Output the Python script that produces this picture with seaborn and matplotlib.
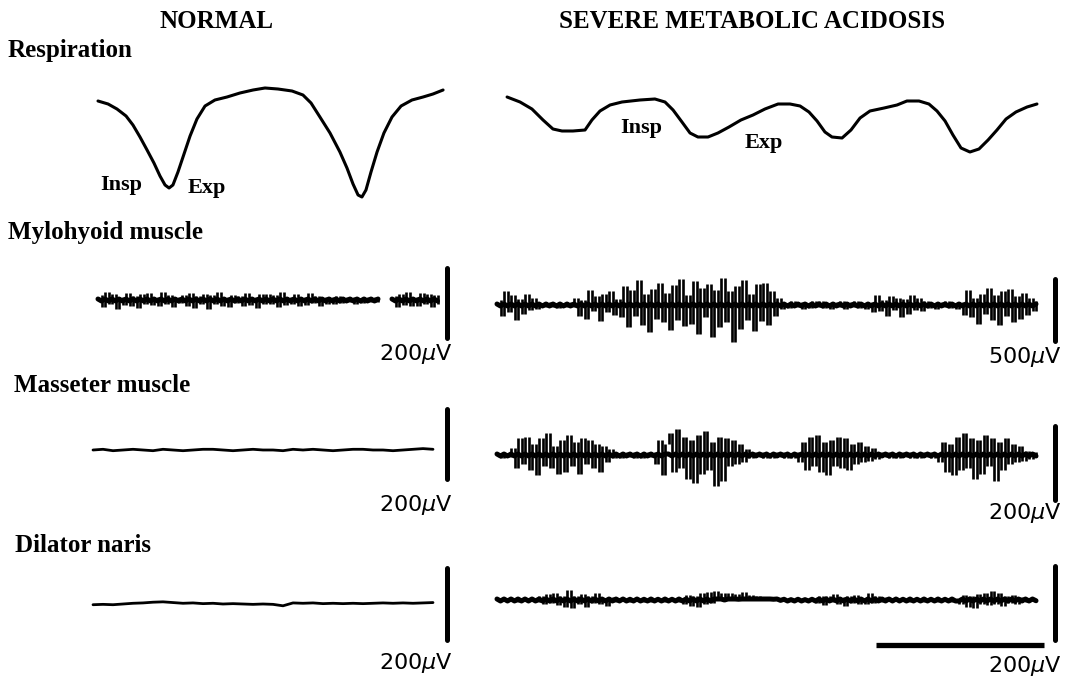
import numpy as np
import pandas as pd
import matplotlib
matplotlib.use("Agg")
import matplotlib.pyplot as plt
import seaborn as sns

sns.set_theme(style="white")
plt.rcParams["font.family"] = ["Liberation Serif", "DejaVu Serif"]
plt.rcParams["text.color"] = "black"

# ---- data (time in s, EMG in microvolts) ----
px_per_s = 168.0            # both panels share the time scale; 1 s bar
dt_emg = 3.5 / px_per_s     # sampling of the hand-read EMG traces
dt_flat = 10.0 / px_per_s

# respiration, arbitrary units (up = expiration)
resp_norm_t = [0.000, 0.060, 0.113, 0.167, 0.208, 0.250, 0.292, 0.333, 0.369, 0.399,
               0.423, 0.446, 0.476, 0.512, 0.548, 0.589, 0.637, 0.696, 0.768, 0.845,
               0.923, 0.994, 1.071, 1.155, 1.220, 1.268, 1.321, 1.381, 1.440, 1.482,
               1.518, 1.548, 1.571, 1.595, 1.625, 1.661, 1.702, 1.750, 1.804, 1.869,
               1.935, 1.994, 2.054]
resp_norm_v = [49, 46, 41, 34, 25, 13, 0, -13, -26, -35,
               -38, -35, -22, -4, 14, 31, 44, 50, 53, 57,
               60, 62, 61, 59, 55, 47, 33, 17, -2, -18,
               -34, -45, -47, -40, -22, -2, 17, 33, 44, 50,
               53, 56, 60]

resp_acid_t = [0.060, 0.137, 0.208, 0.274, 0.333, 0.387, 0.452, 0.524, 0.565, 0.613,
               0.673, 0.744, 0.851, 0.940, 1.000, 1.048, 1.101, 1.149, 1.196, 1.256,
               1.315, 1.381, 1.452, 1.524, 1.595, 1.673, 1.744, 1.804, 1.857, 1.905,
               1.952, 1.994, 2.054, 2.107, 2.161, 2.220, 2.304, 2.381, 2.440, 2.512,
               2.571, 2.619, 2.667, 2.714, 2.762, 2.815, 2.869, 2.923, 2.976, 3.030,
               3.089, 3.155, 3.214]
resp_acid_v = [53, 48, 41, 30, 21, 19, 19, 20, 30, 39,
               45, 48, 50, 51, 48, 40, 28, 17, 13, 13,
               17, 23, 30, 35, 41, 46, 46, 44, 38, 29,
               18, 13, 12, 20, 32, 39, 42, 45, 49, 49,
               46, 39, 29, 15, 2, -2, 1, 10, 20, 31,
               38, 43, 46]

# mylohyoid, normal (two pieces, gap before the last burst)
myl_norm_a = [15, -20, 22, -12, 18, -25, 10, -15, 20, -18,
              12, -22, 16, -10, 20, -14, 8, -18, 22, -12,
              15, -20, 10, -8, 14, -16, 20, -22, 12, -10,
              18, -25, 14, -12, 22, -16, 10, -20, 15, -8,
              12, -18, 20, -14, 10, -22, 16, -12, 18, -10,
              14, -20, 22, -15, 8, -12, 16, -18, 10, -14,
              20, -8, 12, -16, 10, -12, 8, -10, 12, -8,
              10, -6, 8, -10, 6, -8, 10, -6, 8, -5, 4]
myl_norm_b = [12, -20, 18, -14, 22, -16, 10, -18, 20, -12, 16, -20, 14, -10]
myl_norm_b_start = 84

mas_norm = [0, 2, -2, 0, 2, 0, -2, 2, 0, -2, 0, 2, 2, 0, -2, 0, 2, 0, 0, -2,
            2, 0, 2, 0, -2, 0, 2, 2, 0, 0, -2, 0, 2, 4, 2]
dil_norm = [-2, -1, -2, 0, 2, 3, 5, 6, 4, 2, 3, 1, 2, 0, 1, 0, -1, 0, -1, -5,
            3, 2, 3, 1, 2, 1, 2, 1, 2, 3, 2, 3, 2, 3, 4]

myl_acid = [40, -90, 110, -60, 80, -120, 50, -70, 90, -40, 60, -30, 20,
            -20, 25, -15, 20, -25, 15, -20, 25, -15,
            60, -90, 40, -110, 120, -50, 70, -130, 90, -60, 110, -80, 50, -100,
            150, -180, 120, -90, 200, -160, 90, -220, 130, -110, 180, -140, 100, -200, 160,
            -120, 210, -170, 80, -150, 190, -230, 140, -100, 170, -260, 120, -180, 220, -140,
            110, -300, 150, -190, 200, -120, 90, -210, 170, -130, 180, -160, 110, -90, 60,
            -30, 20, -25, 30, -20, 25, -30, 20, -25, 35, -20, 30, -25, 20, -30, 25,
            -20, 30, -35, 25, -20, 30, -25, 20, -30, 25,
            -60, 80, -50, 40, -90, 70, -40, 60, -100, 50, -70, 80, -40, 60, -50, 30,
            -25, 20, -30, 25, -20, 30, -25, 20, -30, 25,
            -80, 120, -100, 60, -150, 90, -70, 140, -120, 80, -160, 110, -90, 130, -140,
            70, -110, 100, -80, 60, -50, 30]
mas_acid = [5, -8, 6, -5,
            20, -35, 45, -25, 50, -40, 30, -55, 45, -30, 60, -35, 25, -50, 40, -45,
            55, -30, 35, -50, 45, -25, 40, -35, 30, -45, 25, -20, 15,
            -8, 6, -7, 8, -6, 7, -8, 6, -7, 8, -6, 7,
            -25, 40, -55, 30, 60, -45, 70, -35, 50, -65, 40, -75, 55, -50, 65, -40,
            35, -85, 50, -70, 45, -30, 40, -25, 30, -20, 15,
            -8, 7, -6, 8, -7, 6, -8, 7, -6, 8, -7, 6, -8, 7,
            -20, 35, -40, 50, -30, 55, -45, 35, -55, 40, -30, 50, -35, 45, -40, 30,
            -25, 35, -20, 25, -15, 20, -10,
            7, -6, 8, -7, 6, -8, 7, -6, 8, -7, 6, -8, 7, -6, 8, -7, 6,
            -20, 35, -45, 30, -55, 50, -40, 60, -35, 45, -65, 40, -50, 55, -30, 45,
            -70, 35, -40, 45, -25, 30, -20, 25, -15,
            12, -10, 8, -6]
dil_acid = [3, -4, 5, -3, 4, -5, 3, -4, 5, -3, 4, -5,
            10, -12, 15, -8, 18, -14, 10, -20, 28, -22, 12, -10, 16, -18, 10, -8,
            20, -12, 6, -15, 8, -6, 5,
            -4, 3, -5, 2, -4, 3, -5, 2, -6, 3, -4, 2, -5, 3, -4, 2, -5, 3,
            -10, 14, -16, 10, -20, 18, -12, 22, -8, 24, 6, 18, 0, 20, 4, 16, 2, 22,
            6, 14, 8, 12,
            6, 8, 4, 6, 2, 4, -1, 2, -3, 1, -4, 2, -3, 1, -4, 2,
            -8, 10, -14, 12, -6, 16, -10, 8, -15, 12, -8, 14, -12, 6, -10, 18, -8,
            10, -6, 8, -4, 6, -3,
            3, -4, 2, -5, 3, -4, 2, -5, 3, -4, 2, -6, 3, -4, 2, -5, 3, -4,
            -10, 14, -18, 12, -22, 16, -12, 20, -14, 25, -10, 18, -16, 12, -8, 14,
            -10, 8, -6,
            4, -3, 3, -2]

scale_uv = {"myl_norm": 200, "mas_norm": 200, "dil_norm": 200,
            "myl_acid": 500, "mas_acid": 200, "dil_acid": 200}
time_bar_s = 1.0

# ---- layout (pixels of the 1074 x 681 canvas) ----
W, H = 1074, 681
fig = plt.figure(figsize=(W / 100, H / 100), dpi=100)
fig.patch.set_facecolor("white")

panels = {"norm": (90, 470, 98), "acid": (490, 1074, 497)}


def px_axes(side, yc, half, unit_per_px):
    x0, x1, origin = panels[side]
    ax = fig.add_axes([x0 / W, 1 - (yc + half) / H, (x1 - x0) / W, 2 * half / H])
    ax.set_xlim((x0 - origin) / px_per_s, (x1 - origin) / px_per_s)
    ax.set_ylim(-half * unit_per_px, half * unit_per_px)
    ax.set_axis_off()
    return ax


def trace(ax, t, v, lw, **kw):
    df = pd.DataFrame({"t": t, "v": v})
    sns.lineplot(data=df, x="t", y="v", ax=ax, color="black", lw=lw,
                 estimator=None, sort=False, legend=False, **kw)


def emg(ax, t, v, upp, band_px=1.0):
    # solid band for the trace body, pen strokes from sample to sample
    lim = band_px * upp
    trace(ax, t, np.clip(v, -lim, lim), 3.6)
    ax.vlines(t[1:], v[:-1], v[1:], color="black", lw=1.9)


def bar(ax, side, x_px, amp, off):
    t = (x_px - panels[side][2]) / px_per_s
    ax.plot([t, t], [off - amp / 2, off + amp / 2], color="black", lw=3.6,
            solid_capstyle="round")


# respiration
ax = px_axes("norm", 140, 75, 1.0)
ax.set_ylim(150 - 215, 150 - 65)
trace(ax, resp_norm_t, resp_norm_v, 2.2)
ax = px_axes("acid", 140, 75, 1.0)
ax.set_ylim(150 - 215, 150 - 65)
trace(ax, resp_acid_t, resp_acid_v, 2.2)

# rows: (key, side, trace centre px, uV per px, bar x px, bar offset uV)
rows = [
    ("myl_norm", "norm", 300, 200 / 70, 447, -9),
    ("mas_norm", "norm", 450, 200 / 70, 447, 17),
    ("dil_norm", "norm", 604, 200 / 72, 447, 0),
    ("myl_acid", "acid", 305, 500 / 62, 1055, -40),
    ("mas_acid", "acid", 455, 200 / 74, 1055, -22),
    ("dil_acid", "acid", 600, 200 / 74, 1055, -8),
]
series = {"myl_acid": myl_acid, "mas_acid": mas_acid, "dil_acid": dil_acid,
          "mas_norm": mas_norm, "dil_norm": dil_norm}

axes = {}
for key, side, yc, upp, bx, off in rows:
    ax = px_axes(side, yc, 62, upp)
    axes[key] = ax
    if key == "myl_norm":
        ta = np.arange(len(myl_norm_a)) * dt_emg
        tb = (myl_norm_b_start + np.arange(len(myl_norm_b))) * dt_emg
        emg(ax, ta, np.array(myl_norm_a), upp)
        emg(ax, tb, np.array(myl_norm_b), upp)
    elif side == "acid":
        vals = np.array(series[key])
        t = np.arange(len(vals)) * dt_emg
        emg(ax, t, vals, upp)
    else:
        vals = series[key]
        t = np.arange(len(vals)) * dt_flat - 5 / px_per_s
        trace(ax, t, vals, 2.0)
    bar(ax, side, bx, scale_uv[key], off)

# time bar (1 s) under the right-hand dilator trace
ax = axes["dil_acid"]
t0 = (876 - 497) / px_per_s
ax.plot([t0, t0 + time_bar_s], [-45 * 200 / 74, -45 * 200 / 74], color="black",
        lw=3.8, solid_capstyle="butt")

# ---- text ----
def ftext(x, y, s, **kw):
    fig.text(x / W, 1 - y / H, s, **kw)


ftext(216, 22, "NORMAL", fontsize=18, fontweight="bold", ha="center", va="center")
ftext(752, 22, "SEVERE METABOLIC ACIDOSIS", fontsize=18, fontweight="bold",
      ha="center", va="center")

for lbl, x, y in [("Respiration", 8, 50), ("Mylohyoid muscle", 8, 233),
                  ("Masseter muscle", 14, 386), ("Dilator naris", 15, 546)]:
    ftext(x, y, lbl, fontsize=18, fontweight="bold", ha="left", va="center")

for s, x, y in [("Insp", 121, 185), ("Exp", 207, 188), ("Insp", 641, 128), ("Exp", 764, 143)]:
    ftext(x, y, s, fontsize=16, fontweight="bold", ha="center", va="center")

uv_labels = [("200$\\mu$V", 453, 354), ("200$\\mu$V", 453, 505), ("200$\\mu$V", 453, 663),
             ("500$\\mu$V", 1062, 357), ("200$\\mu$V", 1062, 513), ("200$\\mu$V", 1062, 666)]
for s, x, y in uv_labels:
    ftext(x, y, s, fontsize=16, ha="right", va="center", family=["DejaVu Sans"])

fig.savefig("out.png", dpi=100, facecolor="white")
